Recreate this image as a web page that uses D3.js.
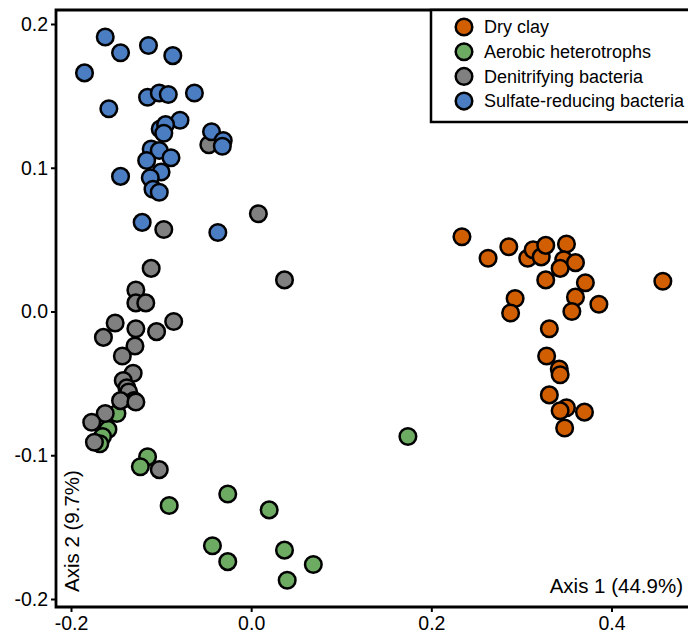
<!DOCTYPE html>
<html>
<head>
<meta charset="utf-8">
<script src="https://cdn.jsdelivr.net/npm/d3@7"></script>
<style>
  body { margin: 0; background: #fff; }
  svg { display: block; font-family: "Liberation Sans", Arial, sans-serif; }
</style>
</head>
<body>
<svg id="chart" width="688" height="633"></svg>
<script>
// groups, drawn in this order
const groups = ["Dry clay", "Aerobic heterotrophs", "Denitrifying bacteria", "Sulfate-reducing bacteria"];
const colors = ["#d15f02", "#6dab63", "#808080", "#4a7dc2"];

const dryClay = [
  [0.234, 0.052], [0.263, 0.037], [0.286, 0.045], [0.307, 0.037], [0.313, 0.043],
  [0.322, 0.038], [0.327, 0.046], [0.350, 0.047], [0.347, 0.036], [0.343, 0.030],
  [0.360, 0.034], [0.327, 0.022], [0.371, 0.020], [0.457, 0.021], [0.293, 0.009],
  [0.288, -0.001], [0.360, 0.010], [0.356, 0.000], [0.386, 0.005], [0.331, -0.012],
  [0.328, -0.031], [0.342, -0.040], [0.343, -0.044], [0.331, -0.058], [0.350, -0.067],
  [0.343, -0.069], [0.370, -0.070], [0.348, -0.081]
];
const aerobic = [
  [-0.149, -0.071], [-0.159, -0.082], [-0.165, -0.087], [-0.168, -0.092], [-0.115, -0.101],
  [-0.123, -0.108], [-0.091, -0.135], [-0.026, -0.127], [0.020, -0.138], [-0.043, -0.163],
  [-0.026, -0.174], [0.037, -0.166], [0.069, -0.176], [0.040, -0.187], [0.174, -0.087]
];
const denitrifying = [
  [-0.047, 0.116], [-0.097, 0.057], [0.008, 0.068], [0.037, 0.022], [-0.111, 0.030],
  [-0.128, 0.015], [-0.128, 0.006], [-0.117, 0.006], [-0.151, -0.008], [-0.164, -0.018],
  [-0.128, -0.012], [-0.105, -0.014], [-0.086, -0.007], [-0.129, -0.024], [-0.143, -0.031],
  [-0.131, -0.043], [-0.142, -0.048], [-0.138, -0.053], [-0.136, -0.056], [-0.130, -0.062],
  [-0.145, -0.062], [-0.128, -0.063], [-0.162, -0.071], [-0.177, -0.077], [-0.174, -0.091],
  [-0.102, -0.110]
];
const sulfate = [
  [-0.162, 0.191], [-0.114, 0.185], [-0.145, 0.180], [-0.087, 0.178], [-0.185, 0.166],
  [-0.115, 0.149], [-0.102, 0.152], [-0.092, 0.151], [-0.063, 0.152], [-0.158, 0.141],
  [-0.079, 0.133], [-0.101, 0.127], [-0.095, 0.130], [-0.097, 0.124], [-0.044, 0.125],
  [-0.031, 0.119], [-0.032, 0.115], [-0.111, 0.113], [-0.102, 0.112], [-0.089, 0.107],
  [-0.116, 0.105], [-0.100, 0.097], [-0.112, 0.093], [-0.145, 0.094], [-0.109, 0.085],
  [-0.102, 0.083], [-0.121, 0.062], [-0.037, 0.055]
];
const seriesData = [dryClay, aerobic, denitrifying, sulfate];

const xTicks = [-0.2, 0.0, 0.2, 0.4];
const yTicks = [-0.2, -0.1, 0.0, 0.1, 0.2];
const xTitle = "Axis 1 (44.9%)";
const yTitle = "Axis 2 (9.7%)";

const svg = d3.select("#chart");
const box = { left: 56, top: 10, right: 700, bottom: 607 };

const x = d3.scaleLinear().domain([-0.2, 0.4]).range([71, 611.5]);
const y = d3.scaleLinear().domain([-0.2, 0.2]).range([599, 24]);

// axes
const xAxis = svg.append("g")
  .attr("transform", `translate(0,${box.bottom})`)
  .call(d3.axisBottom(x).tickValues(xTicks).tickSize(5).tickPadding(4));
const yAxis = svg.append("g")
  .attr("transform", `translate(${box.left},0)`)
  .call(d3.axisLeft(y).tickValues(yTicks).tickSize(5).tickPadding(3));
[xAxis, yAxis].forEach(a => {
  a.select(".domain").remove();
  a.selectAll(".tick line").attr("stroke", "#000").attr("stroke-width", 2);
  a.selectAll(".tick text").attr("fill", "#000").style("font-size", "19.5px")
    .text(d => d3.format(".1f")(d).replace("−", "-"));
});

// points
seriesData.forEach((pts, i) => {
  svg.append("g").selectAll("circle")
    .data(pts)
    .enter()
    .append("circle")
    .attr("cx", d => x(d[0]))
    .attr("cy", d => y(d[1]))
    .attr("r", 8.3)
    .attr("fill", colors[i])
    .attr("stroke", "#000")
    .attr("stroke-width", 2.5);
});

// frame (left, bottom, top)
svg.append("path")
  .attr("d", `M${box.right},${box.top}H${box.left}V${box.bottom}H${box.right}`)
  .attr("fill", "none")
  .attr("stroke", "#000")
  .attr("stroke-width", 2.8);

// axis titles
svg.append("text")
  .attr("x", 683).attr("y", 593)
  .attr("text-anchor", "end")
  .style("font-size", "20.5px")
  .text(xTitle);
svg.append("text")
  .attr("transform", "translate(79,592) rotate(-90)")
  .style("font-size", "20.5px")
  .text(yTitle);

// legend
const legend = svg.append("g");
legend.append("rect")
  .attr("x", 431).attr("y", box.top)
  .attr("width", 270).attr("height", 112)
  .attr("fill", "#fff")
  .attr("stroke", "#000")
  .attr("stroke-width", 2.5);
const item = legend.selectAll(".item")
  .data(groups)
  .enter()
  .append("g")
  .attr("class", "item")
  .attr("transform", (d, i) => `translate(0,${27 + i * 24.7})`);
item.append("circle")
  .attr("cx", 464).attr("r", 8.3)
  .attr("fill", (d, i) => colors[i])
  .attr("stroke", "#000")
  .attr("stroke-width", 2.5);
item.append("text")
  .attr("x", 484).attr("dy", "0.35em")
  .style("font-size", "18px")
  .text(d => d);
</script>
</body>
</html>
